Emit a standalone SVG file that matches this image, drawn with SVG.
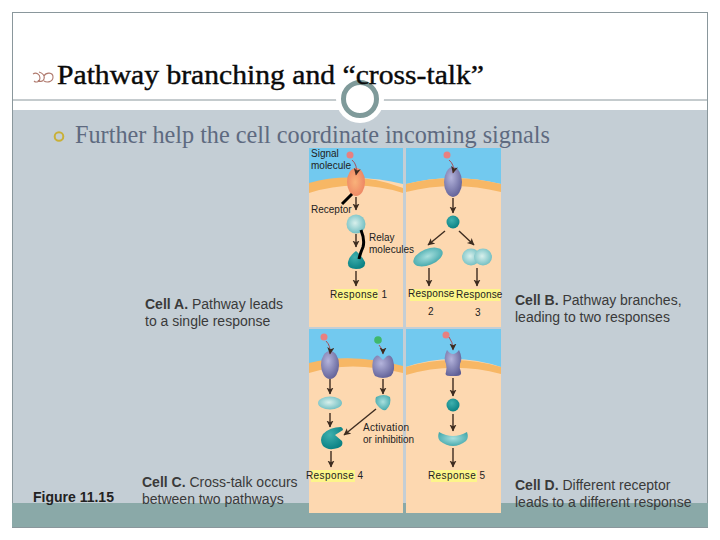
<svg xmlns="http://www.w3.org/2000/svg" width="720" height="540" viewBox="0 0 720 540">
<defs>
<marker id="ah" markerWidth="8" markerHeight="8" refX="6.500" refY="3.500" orient="auto" markerUnits="userSpaceOnUse"><path d="M0 0L7 3.500L0 7L1.800 3.500Z" fill="#3d2c20"/></marker>
<radialGradient id="gP" cx="40%" cy="35%" r="70%"><stop offset="0" stop-color="#b4b4dc"/><stop offset="1" stop-color="#5f5f96"/></radialGradient>
<radialGradient id="gO" cx="45%" cy="50%" r="65%"><stop offset="0" stop-color="#f9b27a"/><stop offset="1" stop-color="#ec7f60"/></radialGradient>
<radialGradient id="gL" cx="45%" cy="45%" r="60%"><stop offset="0" stop-color="#d8f0ec"/><stop offset="1" stop-color="#6cbcc0"/></radialGradient>
<radialGradient id="gT" cx="40%" cy="35%" r="70%"><stop offset="0" stop-color="#3fb0ae"/><stop offset="1" stop-color="#087f82"/></radialGradient>
<radialGradient id="gM" cx="50%" cy="45%" r="60%"><stop offset="0" stop-color="#a9e0de"/><stop offset="1" stop-color="#3fa6aa"/></radialGradient>
</defs>
<style>
.sky{fill:#72c9ef}.cyt{fill:#fdd8b0}.mem{fill:#f7b765}
.lab{font:10px "Liberation Sans",Arial,sans-serif;fill:#222}
.rsp{letter-spacing:.4px}
.cap{font:14px "Liberation Sans",Arial,sans-serif;fill:#3a3a3a}
.hl{fill:#fdf58a}
.con{fill:none;stroke:#3d2c20;stroke-width:1.400;marker-end:url(#ah)}
.sig{fill:none;stroke:#a8505a;stroke-width:1;marker-end:url(#ah)}
.blk{fill:none;stroke:#000;stroke-width:3}
.pur{fill:url(#gP)}.lig{fill:url(#gL)}.tea{fill:url(#gT)}.mid{fill:url(#gM)}
.red{fill:#e88080}
</style>

<rect x="12.500" y="12.500" width="695" height="515" fill="#fff" stroke="#8a979c"/>
<rect x="13" y="110" width="694" height="393" fill="#c4ced5"/>
<rect x="12" y="503" width="696" height="24" fill="#8aa9a8"/>
<line x1="12" y1="100" x2="708" y2="100" stroke="#8a979c"/>
<circle cx="360" cy="99" r="24" fill="#fff"/>
<circle cx="360" cy="99" r="16.500" fill="#fff" stroke="#7f9a9a" stroke-width="5"/>

<g id="title">
<path d="M33 74c3-2 7 0 7 4s-4 5-6 3M39 72c4 1 6 4 5 7s-5 3-6 1M44 76c2-4 9-4 9 1s-6 6-9 4" fill="none" stroke="#b07a6e" stroke-width="1.100"/>
<text x="57" y="84" font-family="'Liberation Serif','Times New Roman',serif" font-size="27" fill="#0a0a0a" textLength="427" lengthAdjust="spacingAndGlyphs" style="stroke:#0a0a0a;stroke-width:.4">Pathway branching and “cross-talk”</text>
</g>
<g id="subtitle">
<circle cx="59" cy="136.500" r="4.300" fill="none" stroke="#c9b037" stroke-width="2"/>
<text x="75" y="143" font-family="'Liberation Serif','Times New Roman',serif" font-size="24.500" fill="#5e6a80" textLength="475" lengthAdjust="spacingAndGlyphs">Further help the cell coordinate incoming signals</text>
</g>

<g id="panels">
<rect x="309" y="148" width="94" height="179" class="cyt"/>
<path class="sky" d="M309 148H403V184Q356 172 309 184Z"/>
<path class="mem" d="M309 183Q356 170 403 188V193Q356 178 309 193Z"/>
<rect x="406" y="148" width="95" height="179" class="cyt"/>
<path class="sky" d="M406 148H501V184Q453 172 406 184Z"/>
<path class="mem" d="M406 184Q453 172 501 184V192Q453 180 406 192Z"/>
<rect x="309" y="329" width="94" height="184" class="cyt"/>
<path class="sky" d="M309 329H403V367Q350 352 309 364Z"/>
<path class="mem" d="M309 363Q350 352 403 366V373Q350 360 309 373Z"/>
<rect x="406" y="329" width="95" height="184" class="cyt"/>
<path class="sky" d="M406 329H501V367Q453 351 406 367Z"/>
<path class="mem" d="M406 367Q453 353 501 367V374Q453 361 406 375Z"/>
</g>

<g id="cellA">
<circle cx="350" cy="155" r="3.500" class="red"/>
<ellipse cx="356" cy="182" rx="9" ry="14" fill="url(#gO)"/>
<circle cx="356" cy="224" r="9.500" class="lig"/>
<path class="tea" d="M356 251Q362 256 365 262Q366 269 356 269Q347 269 348 262Q349 256 356 251Z"/>
<text class="lab" x="311" y="157">Signal</text>
<text class="lab" x="311" y="169">molecule</text>
<text class="lab" x="311" y="213">Receptor</text>
<text class="lab" x="369" y="241">Relay</text>
<text class="lab" x="369" y="253">molecules</text>
<rect class="hl" x="334" y="289" width="44" height="11"/>
<text class="lab rsp" x="330" y="298">Response 1</text>
<text class="cap" x="145" y="309"><tspan font-weight="bold">Cell A.</tspan> Pathway leads</text>
<text class="cap" x="145" y="326">to a single response</text>
</g>

<g id="cellB">
<circle cx="447" cy="155" r="3.500" class="red"/>
<ellipse cx="453" cy="182" rx="9" ry="15" class="pur"/>
<circle cx="453" cy="222" r="6.500" class="tea"/>
<ellipse cx="428" cy="257" rx="15.500" ry="8" class="mid" transform="rotate(-22 428 257)"/>
<ellipse cx="471" cy="257" rx="9" ry="8.500" class="lig"/>
<ellipse cx="483" cy="257" rx="9" ry="8.500" class="lig"/>
<rect class="hl" x="410" y="289" width="90" height="12"/>
<text class="lab" x="408" y="297" letter-spacing=".2">Response</text>
<text class="lab" x="456" y="298" letter-spacing=".2">Response</text>
<text class="lab" x="428" y="315">2</text>
<text class="lab" x="475" y="316">3</text>
<text class="cap" x="515" y="305"><tspan font-weight="bold">Cell B.</tspan> Pathway branches,</text>
<text class="cap" x="515" y="322">leading to two responses</text>
</g>

<g id="cellC">
<circle cx="324" cy="337" r="3.500" class="red"/>
<circle cx="378" cy="340" r="3.800" fill="#3fb86b"/>
<ellipse cx="330" cy="365" rx="9" ry="14" class="pur"/>
<path class="pur" d="M373 360Q376 354 379 356L383 360L387 356Q391 354 393 360Q396 370 391 376Q383 380 375 376Q371 370 373 360Z"/>
<ellipse cx="330" cy="403" rx="12" ry="6.500" class="lig"/>
<path class="mid" d="M376 397Q384 393 390 397Q392 404 386 410Q382 411 378 406Q374 402 376 397Z"/>
<path class="tea" d="M341 427Q343 428 343 430L335 435L342 441Q344 446 338 448Q328 451 323 446Q319 440 323 434Q330 427 341 427Z"/>
<rect class="hl" x="311" y="470" width="44" height="12"/>
<text class="lab rsp" x="306" y="479">Response 4</text>
<text class="lab" x="363" y="431" letter-spacing=".3">Activation</text>
<text class="lab" x="363" y="443">or inhibition</text>
<text class="cap" x="142" y="487"><tspan font-weight="bold">Cell C.</tspan> Cross-talk occurs</text>
<text class="cap" x="142" y="504">between two pathways</text>
</g>

<g id="cellD">
<circle cx="446" cy="335" r="3.500" class="red"/>
<path class="pur" d="M447 350Q453 358 459 350Q463 358 460 364Q459 368 461 372Q462 376 456 376H450Q444 376 446 372Q447 368 446 364Q443 358 447 350Z"/>
<circle cx="453" cy="405" r="6.500" class="tea"/>
<path class="mid" d="M439 432Q453 440 467 432Q469 438 466 441Q453 451 440 441Q437 438 439 432Z"/>
<rect class="hl" x="431" y="470" width="46" height="12"/>
<text class="lab rsp" x="428" y="479">Response 5</text>
<text class="cap" x="515" y="490"><tspan font-weight="bold">Cell D.</tspan> Different receptor</text>
<text class="cap" x="515" y="507">leads to a different response</text>
</g>

<g id="figure">
<text x="33" y="502" font-family="'Liberation Sans',Arial,sans-serif" font-size="14" font-weight="bold" fill="#222">Figure 11.15</text>
</g>

<g id="connectors">
<path class="sig" d="M352 160Q358 165 356 175"/>
<path class="con" d="M356 197V210"/>
<path class="con" d="M356 234V247"/>
<path class="con" d="M356 271V286"/>
<path class="sig" d="M449 160Q455 165 453 173"/>
<path class="con" d="M453 198V213"/>
<path class="con" d="M445 231L428 245"/>
<path class="con" d="M459 231L474 245"/>
<path class="con" d="M429 268V286"/>
<path class="con" d="M477 268V286"/>
<path class="sig" d="M326 341Q331 346 330 354"/>
<path class="sig" d="M379 345Q383 349 383 354"/>
<path class="sig" d="M449 337Q453 342 453 350"/>
<path class="con" d="M330 379V394"/>
<path class="con" d="M383 379V394"/>
<path class="con" d="M330 413V427"/>
<path class="con" d="M376 409L344 435"/>
<path class="con" d="M331 451V467"/>
<path class="con" d="M453 378V396"/>
<path class="con" d="M453 414V431"/>
<path class="con" d="M453 448V467"/>
<path class="blk" d="M352 194L342 204"/>
<path class="blk" d="M361 230Q365 240 363 247Q360 254 359 259"/>
</g>
</svg>
